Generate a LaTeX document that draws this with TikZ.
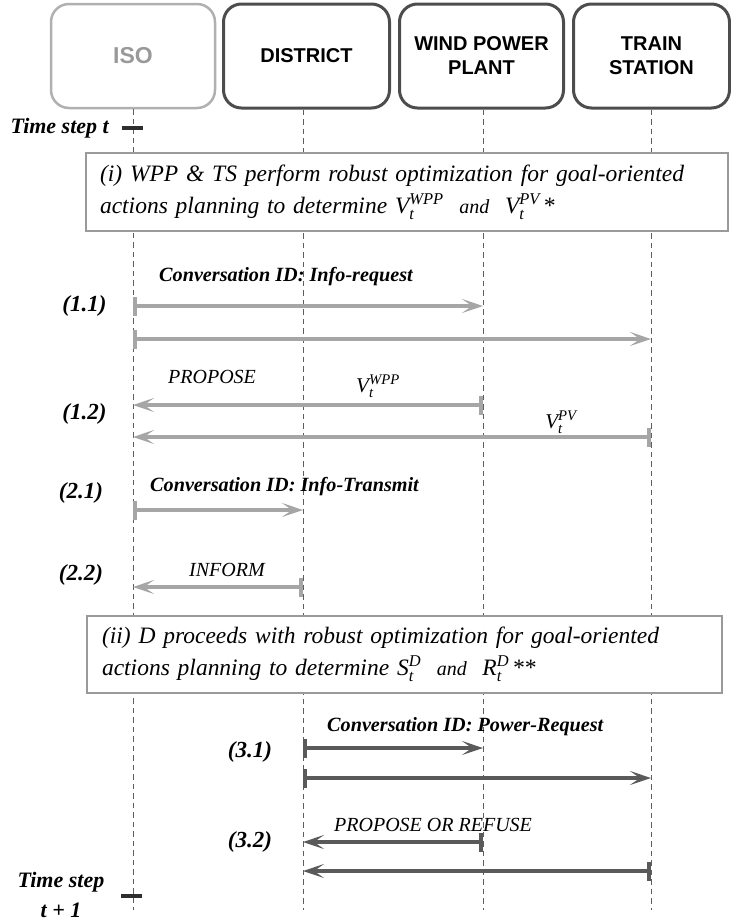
\documentclass[tikz,border=0pt]{standalone}
\usepackage{amsmath}
\usepackage{fontspec}
\setmainfont{Liberation Serif}
\newfontfamily\hvfont{Liberation Sans}
\usetikzlibrary{arrows.meta}
\definecolor{isogray}{HTML}{B0B0B0}
\definecolor{isotext}{HTML}{999999}
\definecolor{actorline}{HTML}{4D4D4D}
\definecolor{msglight}{HTML}{A6A6A6}
\definecolor{msgdark}{HTML}{5A5A5A}
\definecolor{lifegray}{HTML}{5E5E5E}
\definecolor{boxgray}{HTML}{9A9A9A}
\definecolor{tickdark}{HTML}{2E2E2E}
\newcommand{\varsym}[3]{$\textit{#1}_{\textit{#2}}^{\textit{#3}}$}
\newcommand{\smalland}{{\fontsize{20}{32}\selectfont and}}
\tikzset{
  actor/.style={rectangle, rounded corners=18pt, line width=3pt, draw=actorline,
    minimum height=104pt, align=center, inner sep=2pt,
    font=\hvfont\bfseries\fontsize{20}{24}\selectfont},
  lifeline/.style={draw=lifegray, line width=1pt, dash pattern=on 5.5pt off 4pt},
  notebox/.style={rectangle, draw=boxgray, line width=1.2pt, align=left,
    font=\itshape\fontsize{23.5}{32}\selectfont, inner ysep=0pt},
  steplabel/.style={font=\bfseries\itshape\fontsize{23}{30}\selectfont, inner sep=0pt},
  timelabel/.style={font=\bfseries\itshape\fontsize{22}{30}\selectfont, inner sep=0pt},
  convlabel/.style={font=\bfseries\itshape\fontsize{20.2}{24}\selectfont, anchor=west, inner sep=0pt},
  actlabel/.style={font=\itshape\fontsize{20}{24}\selectfont, anchor=west, inner sep=0pt},
  vallabel/.style={font=\fontsize{21}{24}\selectfont, inner sep=0pt},
  tickmark/.style={rectangle, fill=tickdark, minimum width=21pt, minimum height=3.5pt, inner sep=0pt},
  msgl/.style={draw=msglight, line width=4.3pt, -{Stealth[length=21pt,width=14pt,inset=10pt]}},
  msgd/.style={draw=msgdark, line width=4.3pt, -{Stealth[length=21pt,width=14pt,inset=10pt]}},
  barstart/.style={{Bar[width=19pt]}-{Stealth[length=21pt,width=14pt,inset=10pt]}},
}
\begin{document}
\begin{tikzpicture}[x=1pt,y=-1pt]
\useasboundingbox (0,0) rectangle (731,922);
% actors
\node[actor, draw=isogray, line width=2.5pt, minimum width=164pt, text=isotext,
      font=\hvfont\bfseries\fontsize{23}{26}\selectfont] (iso) at (133,56) {ISO};
\node[actor, minimum width=166pt] (dist) at (306.5,56) {DISTRICT};
\node[actor, minimum width=164pt] (wpp) at (481.5,56) {WIND POWER\\PLANT};
\node[actor, minimum width=156pt] (ts) at (651.5,56) {TRAIN\\STATION};
% lifeline ends
\coordinate (isoE) at (133,910);
\coordinate (distE) at (303,910);
\coordinate (wppE) at (483,910);
\coordinate (tsE) at (651,910);
\draw[lifeline] (iso.south -| isoE) -- (isoE);
\draw[lifeline] (dist.south -| distE) -- (distE);
\draw[lifeline] (wpp.south -| wppE) -- (wppE);
\draw[lifeline] (ts.south -| tsE) -- (tsE);
% time step t
\node[timelabel, anchor=east] (tst) at (109,128) {Time step t};
\node[tickmark] (tick1) at (132.5,128) {};
% box (i)
\node[notebox, fill=white, minimum width=642pt, minimum height=78pt, text width=614pt, inner xsep=14pt] (boxi) at (407,192)
 {(i) WPP \& TS perform robust optimization for goal-oriented\\actions planning to determine \varsym{V}{t}{WPP}\ \ \smalland\ \ \varsym{V}{t}{PV}\hspace{3pt}*};
% message rows coordinates
\coordinate (i11a) at (133,306); \coordinate (w11a) at (483,306);
\coordinate (i11b) at (133,339); \coordinate (t11b) at (651,339);
\coordinate (i12a) at (133,405); \coordinate (w12a) at (483,405);
\coordinate (i12b) at (133,437); \coordinate (t12b) at (651,437);
\coordinate (i21) at (133,510); \coordinate (d21) at (303,510);
\coordinate (i22) at (133,587); \coordinate (d22) at (303,587);
\coordinate (d31a) at (303,748); \coordinate (w31a) at (483,748);
\coordinate (d31b) at (303,778); \coordinate (t31b) at (651,778);
\coordinate (d32a) at (303,842); \coordinate (w32a) at (483,842);
\coordinate (d32b) at (303,871); \coordinate (t32b) at (651,871);
% labels phase 1
\node[convlabel] (c11) at (159,277) {Conversation ID: Info-request};
\node[steplabel] (s11) at (84.5,306) {(1.1)};
\draw[msgl, barstart] (i11a) -- (w11a);
\draw[msgl, barstart] (i11b) -- (t11b);
\node[actlabel] (p12) at (168,377) {PROPOSE};
\node[vallabel] (vw) at (378,386) {\varsym{V}{t}{WPP}};
\node[steplabel] (s12) at (84.5,414) {(1.2)};
\draw[msgl, barstart] (w12a) -- (i12a);
\node[vallabel] (vp) at (561,422) {\varsym{V}{t}{PV}};
\draw[msgl, barstart] (t12b) -- (i12b);
% phase 2
\node[steplabel] (s21) at (81,493) {(2.1)};
\node[convlabel] (c21) at (150,487) {Conversation ID: Info-Transmit};
\draw[msgl, barstart] (i21) -- (d21);
\node[steplabel] (s22) at (81,575) {(2.2)};
\node[actlabel] (inf) at (189,570) {INFORM};
\draw[msgl, barstart] (d22) -- (i22);
% box (ii)
\node[notebox, fill=white, minimum width=635pt, minimum height=77pt, text width=605pt, inner xsep=15pt] (boxii) at (404.5,654.5)
 {(ii) D proceeds with robust optimization for goal-oriented\\actions planning to determine \varsym{S}{t}{D}\ \ \smalland\ \ \varsym{R}{t}{D}\hspace{3pt}**};
% phase 3
\node[convlabel] (c31) at (327,727) {Conversation ID: Power-Request};
\node[steplabel] (s31) at (250,752) {(3.1)};
\draw[msgd, barstart] (d31a) -- (w31a);
\draw[msgd, barstart] (d31b) -- (t31b);
\node[actlabel] (pr) at (334,825) {PROPOSE OR REFUSE};
\node[steplabel] (s32) at (250,842) {(3.2)};
\draw[msgd, barstart] (w32a) -- (d32a);
\draw[msgd, barstart] (t32b) -- (d32b);
% time step t+1
\node[timelabel, align=center] (tst1) at (61,895) {Time step\\t + 1};
\node[tickmark] (tick2) at (131,896) {};
\end{tikzpicture}
\end{document}
